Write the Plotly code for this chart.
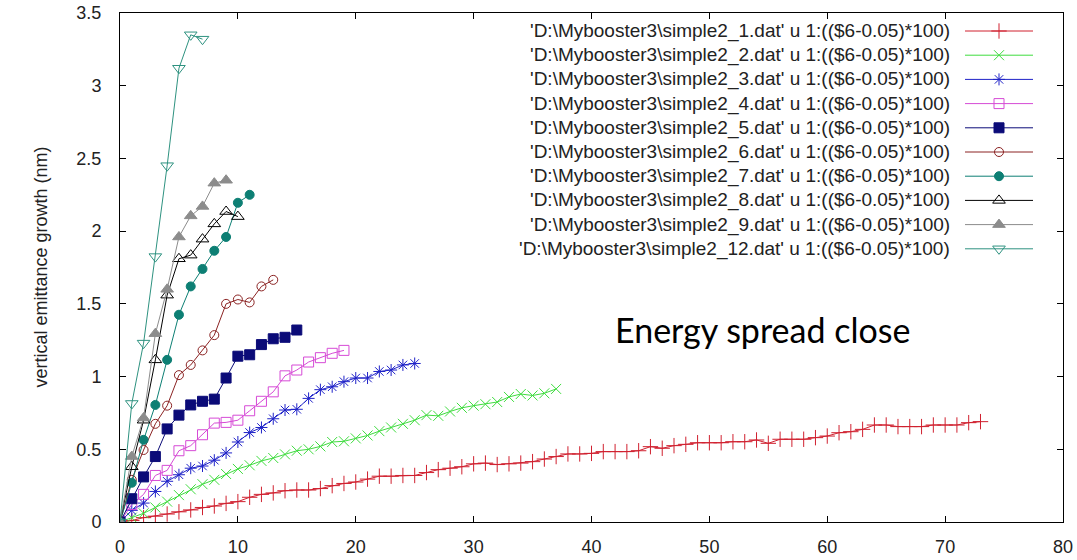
import plotly.graph_objects as go

# ---------------- data ----------------
s1 = [0, 0.01, 0.03, 0.04, 0.055, 0.07, 0.083, 0.10, 0.11, 0.128,
      0.14, 0.17, 0.19, 0.20, 0.215, 0.22, 0.22, 0.23, 0.25, 0.265,
      0.275, 0.295, 0.315, 0.315, 0.32, 0.32, 0.34, 0.36, 0.37, 0.38,
      0.40, 0.405, 0.395, 0.40, 0.405, 0.415, 0.433, 0.45, 0.468, 0.468,
      0.472, 0.484, 0.484, 0.484, 0.49, 0.518, 0.507, 0.525, 0.534, 0.545,
      0.545, 0.545, 0.552, 0.552, 0.564, 0.541, 0.569, 0.569, 0.569, 0.58,
      0.591, 0.614, 0.621, 0.637, 0.667, 0.667, 0.656, 0.656, 0.656, 0.667,
      0.667, 0.667, 0.683, 0.69]
s2 = [0, 0.03, 0.06, 0.10, 0.14, 0.185, 0.225, 0.26, 0.29, 0.33,
      0.365, 0.39, 0.42, 0.44, 0.465, 0.49, 0.50, 0.52, 0.55, 0.555,
      0.575, 0.595, 0.625, 0.65, 0.675, 0.70, 0.735, 0.73, 0.76, 0.785,
      0.80, 0.81, 0.825, 0.86, 0.88, 0.87, 0.885, 0.915]
s3 = [0, 0.08, 0.13, 0.21, 0.28, 0.325, 0.37, 0.385, 0.425, 0.475,
      0.55, 0.615, 0.65, 0.71, 0.77, 0.775, 0.85, 0.91, 0.93, 0.965,
      0.99, 0.99, 1.035, 1.045, 1.08, 1.09]
s4 = [0, 0.12, 0.19, 0.32, 0.355, 0.49, 0.525, 0.60, 0.68, 0.685,
      0.70, 0.765, 0.83, 0.895, 1.005, 1.045, 1.10, 1.13, 1.16, 1.18]
s5 = [0, 0.16, 0.31, 0.45, 0.64, 0.735, 0.805, 0.83, 0.845, 0.99,
      1.14, 1.15, 1.22, 1.26, 1.27, 1.32]
s6 = [0, 0.29, 0.495, 0.675, 0.80, 1.01, 1.08, 1.18, 1.285, 1.50,
      1.53, 1.51, 1.62, 1.665]
s7 = [0, 0.27, 0.565, 0.805, 1.115, 1.425, 1.62, 1.74, 1.865, 1.96,
      2.195, 2.25]
s8 = [0, 0.38, 0.70, 1.115, 1.56, 1.81, 1.835, 1.945, 2.05, 2.135, 2.10]
s9 = [0, 0.45, 0.715, 1.295, 1.60, 1.96, 2.105, 2.17, 2.33, 2.35]
s12 = [0, 0.815, 1.23, 1.825, 2.45, 3.12, 3.35, 3.32]

series_values = [s1, s2, s3, s4, s5, s6, s7, s8, s9, s12]
file_ids = ["1", "2", "3", "4", "5", "6", "7", "8", "9", "12"]
series_names = ["'D:\\Mybooster3\\simple2_" + f + ".dat' u 1:(($6-0.05)*100)"
                for f in file_ids]

x_ticks = [0, 10, 20, 30, 40, 50, 60, 70, 80]
x_ticklabels = ["0", "10", "20", "30", "40", "50", "60", "70", "80"]
y_ticks = [0, 0.5, 1, 1.5, 2, 2.5, 3, 3.5]
y_ticklabels = ["0", "0.5", "1", "1.5", "2", "2.5", "3", "3.5"]

# ---------------- styles ----------------
colors = ["#d0202f", "#3fdc3f", "#1f22c8", "#d64ad6", "#0b0b78",
          "#8b2323", "#0d7f74", "#000000", "#8c8c8c", "#2e9280"]
symbols = ["cross-thin-open", "x-thin-open", "asterisk-open", "square-open",
           "square", "circle-open", "circle", "triangle-up-open",
           "triangle-up", "triangle-down-open"]
msizes = [11, 10, 10, 10, 10, 9, 9, 11, 11, 11]

W, H = 1077, 560
L, R, T, B = 120, 1063, 13, 522   # plot area in pixels

fig = go.Figure()
for vals, c, sym, ms in zip(series_values, colors, symbols, msizes):
    fig.add_trace(go.Scatter(
        x=list(range(len(vals))), y=vals, mode="lines+markers",
        line=dict(color=c, width=1),
        marker=dict(symbol=sym, size=ms, color=c, line=dict(color=c, width=1)),
        showlegend=False, hoverinfo="skip"))

# ------- custom legend (text right-aligned, sample on the right) -------
row0, drow = 31, 24.2
text_right, samp_l, samp_r = 952, 965, 1033
annotations = []
for i, (name, c, sym, ms) in enumerate(zip(series_names, colors, symbols, msizes)):
    ry = row0 + drow * i
    fig.add_trace(go.Scatter(
        x=[samp_l, samp_r], y=[ry, ry], xaxis="x2", yaxis="y2", mode="lines",
        line=dict(color=c, width=1), showlegend=False, hoverinfo="skip"))
    fig.add_trace(go.Scatter(
        x=[(samp_l + samp_r) / 2], y=[ry], xaxis="x2", yaxis="y2", mode="markers",
        marker=dict(symbol=sym, size=ms, color=c, line=dict(color=c, width=1)),
        showlegend=False, hoverinfo="skip"))
    annotations.append(dict(
        x=text_right, y=ry, xref="x2", yref="y2", text=name, showarrow=False,
        xanchor="right", yanchor="middle",
        font=dict(family="Liberation Sans, Arial", size=19, color="#222")))

annotations.append(dict(
    x=(40 - L) / (R - L), y=0.5, xref="paper", yref="paper",
    text="vertical emittance growth (nm)", showarrow=False, textangle=-90,
    xanchor="center", yanchor="middle",
    font=dict(family="Liberation Sans, Arial", size=18, color="#222")))
annotations.append(dict(
    x=(762 - L) / (R - L), y=(B - 329) / (B - T), xref="paper", yref="paper",
    text="Energy spread close", showarrow=False,
    xanchor="center", yanchor="middle",
    font=dict(family="Lato, Carlito, sans-serif", size=34, color="#000")))

axis_font = dict(family="Liberation Sans, Arial", size=18, color="#222")
fig.update_layout(
    width=W, height=H,
    margin=dict(l=L, r=W - R, t=T, b=H - B, pad=0),
    paper_bgcolor="white", plot_bgcolor="white",
    xaxis=dict(range=[0, 80], tickvals=x_ticks, ticktext=x_ticklabels,
               showgrid=False, zeroline=False, showline=True, linecolor="black",
               linewidth=1, mirror="ticks", ticks="inside", ticklen=6,
               tickcolor="black", tickfont=axis_font, ticklabelstandoff=8,
               automargin=False),
    yaxis=dict(range=[0, 3.5], tickvals=y_ticks, ticktext=y_ticklabels,
               showgrid=False, zeroline=False, showline=True, linecolor="black",
               linewidth=1, mirror="ticks", ticks="inside", ticklen=6,
               tickcolor="black", tickfont=axis_font, ticklabelstandoff=14,
               automargin=False),
    xaxis2=dict(range=[L, R], overlaying="x", visible=False, fixedrange=True),
    yaxis2=dict(range=[B, T], overlaying="y", visible=False, fixedrange=True),
    annotations=annotations,
)

fig.write_html("out.html")
